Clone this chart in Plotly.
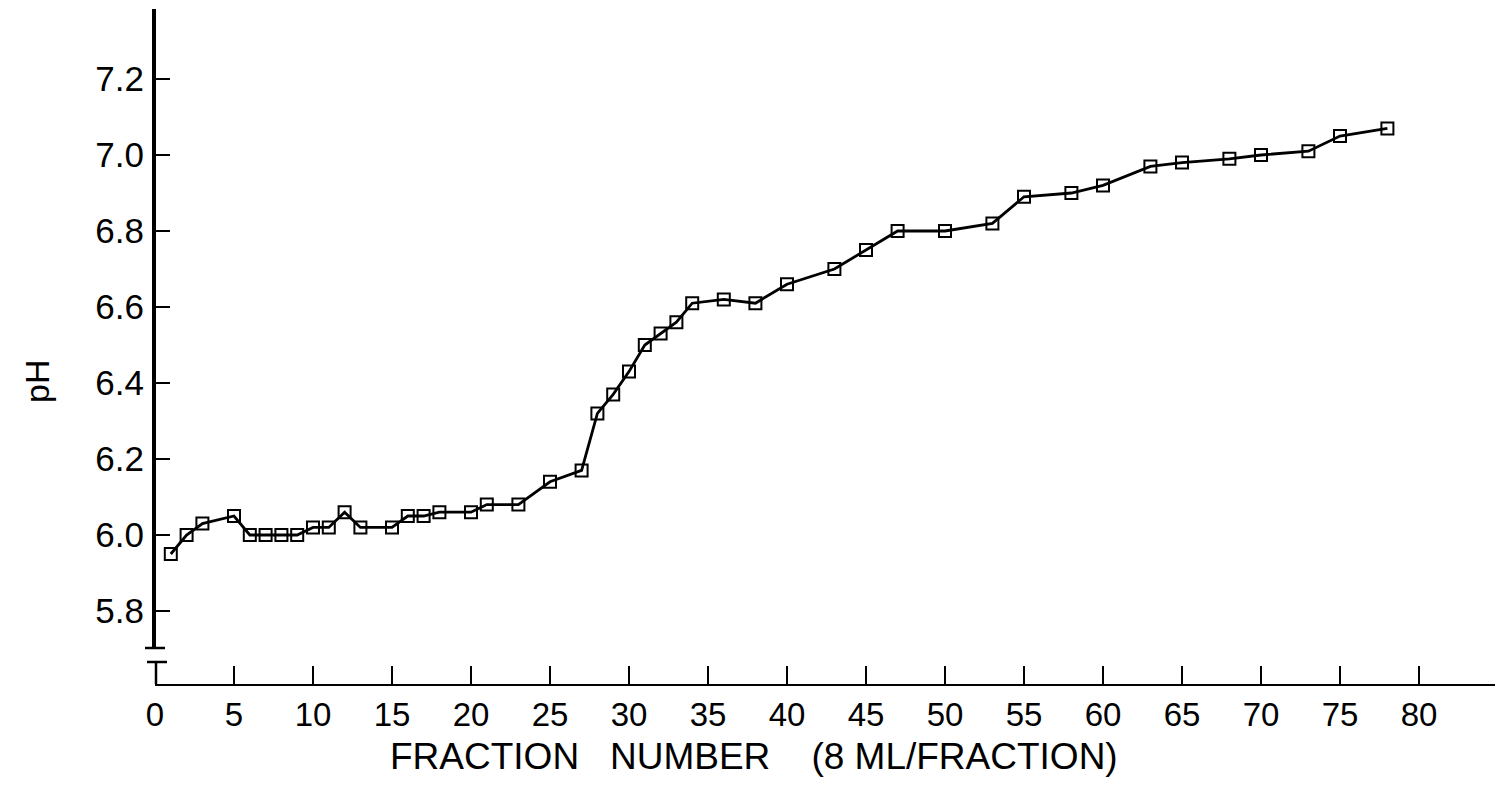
import plotly.graph_objects as go

# Fraction number and measured pH of each collected fraction
fraction = [1, 2, 3, 5, 6, 7, 8, 9, 10, 11, 12, 13, 15, 16, 17, 18, 20, 21, 23,
            25, 27, 28, 29, 30, 31, 32, 33, 34, 36, 38, 40, 43, 45, 47, 50, 53,
            55, 58, 60, 63, 65, 68, 70, 73, 75, 78]
ph = [5.95, 6.00, 6.03, 6.05, 6.00, 6.00, 6.00, 6.00, 6.02, 6.02, 6.06, 6.02,
      6.02, 6.05, 6.05, 6.06, 6.06, 6.08, 6.08, 6.14, 6.17, 6.32, 6.37, 6.43,
      6.50, 6.53, 6.56, 6.61, 6.62, 6.61, 6.66, 6.70, 6.75, 6.80, 6.80, 6.82,
      6.89, 6.90, 6.92, 6.97, 6.98, 6.99, 7.00, 7.01, 7.05, 7.07]

x_ticks = list(range(0, 85, 5))
y_ticks = [5.8, 6.0, 6.2, 6.4, 6.6, 6.8, 7.0, 7.2]
y_tick_text = ["5.8", "6.0", "6.2", "6.4", "6.6", "6.8", "7.0", "7.2"]

FONT = "Liberation Sans"
W, H = 1498, 799
ML, MR, MT, MB = 155, 3, 9, 115
PW, PH = W - ML - MR, H - MT - MB


def px(xpix):
    return (xpix - ML) / PW


def py(ypix):
    return (H - MB - ypix) / PH


fig = go.Figure()
fig.add_trace(go.Scatter(
    x=fraction, y=ph, mode="lines+markers",
    line=dict(color="black", width=2.8),
    marker=dict(symbol="square-open", size=12, color="black",
                line=dict(width=2, color="black")),
    showlegend=False, cliponaxis=False,
))

# broken y axis drawn by hand: main spine, end cap and the "T" stub at the origin
shapes = [
    dict(type="line", xref="paper", yref="paper", x0=px(154), x1=px(154),
         y0=py(648), y1=1, line=dict(color="black", width=4)),
    dict(type="line", xref="paper", yref="paper", x0=px(145), x1=px(165),
         y0=py(648), y1=py(648), line=dict(color="black", width=2.5)),
    dict(type="line", xref="paper", yref="paper", x0=px(147), x1=px(167),
         y0=py(662), y1=py(662), line=dict(color="black", width=2.5)),
    dict(type="line", xref="paper", yref="paper", x0=px(156), x1=px(156),
         y0=py(662), y1=0, line=dict(color="black", width=2.5)),
]

annotations = [
    dict(text="pH", xref="paper", yref="paper", x=px(37), y=py(382),
         textangle=-90, showarrow=False, xanchor="center", yanchor="middle",
         font=dict(family=FONT, size=34, color="black")),
    dict(text="FRACTION&nbsp;&nbsp;&nbsp;NUMBER&nbsp;&nbsp;&nbsp;&nbsp;(8 ML/FRACTION)",
         xref="paper", yref="paper", x=px(388), y=py(756),
         showarrow=False, xanchor="left", yanchor="middle",
         font=dict(family=FONT, size=37, color="black")),
]

fig.update_layout(
    width=W, height=H, autosize=False,
    margin=dict(l=ML, r=MR, t=MT, b=MB, pad=0),
    paper_bgcolor="white", plot_bgcolor="white",
    shapes=shapes, annotations=annotations,
    xaxis=dict(range=[0, PW / 15.8], tickmode="array", tickvals=x_ticks,
               ticktext=[str(v) for v in x_ticks],
               ticks="inside", ticklen=18, tickwidth=2, tickcolor="black",
               showline=True, linewidth=2, linecolor="black",
               showgrid=False, zeroline=False, ticklabelstandoff=0,
               tickfont=dict(family=FONT, size=33, color="black")),
    yaxis=dict(range=[6.0 - (H - MB - 535) / 380, 6.0 + (535 - MT) / 380],
               tickmode="array", tickvals=y_ticks, ticktext=y_tick_text,
               ticks="inside", ticklen=15, tickwidth=2, tickcolor="black",
               showline=False, showgrid=False, zeroline=False,
               ticklabelstandoff=10,
               tickfont=dict(family=FONT, size=35, color="black")),
)

fig.write_html("out.html")
